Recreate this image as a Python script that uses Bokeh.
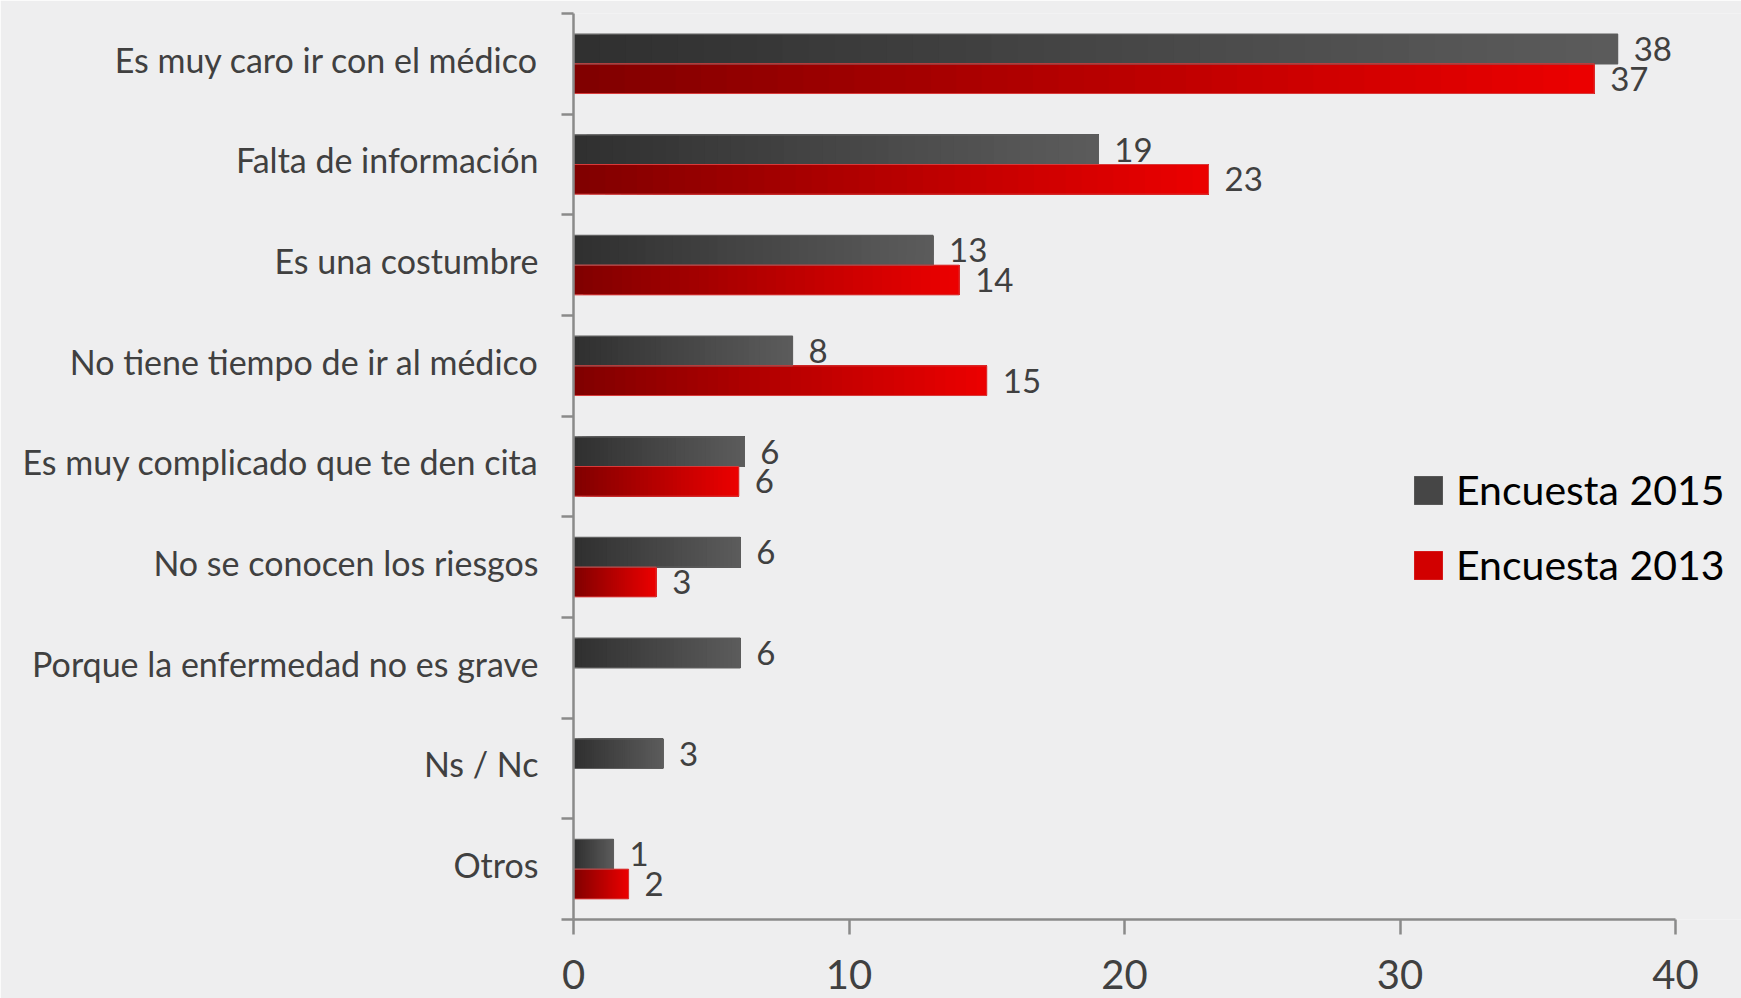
from bokeh.plotting import figure
from bokeh.models import (Range1d, FixedTicker, ColumnDataSource, Legend, LegendItem)
from bokeh.embed import file_html
from bokeh.resources import INLINE
from bokeh.core.properties import value

# ---------------- data ----------------
categories = [
    "Es muy caro ir con el médico",
    "Falta de información",
    "Es una costumbre",
    "No tiene tiempo de ir al médico",
    "Es muy complicado que te den cita",
    "No se conocen los riesgos",
    "Porque la enfermedad no es grave",
    "Ns / Nc",
    "Otros",
]
values_2015 = [37.9, 19.05, 13.05, 7.95, 6.2, 6.05, 6.05, 3.25, 1.45]
values_2013 = [37.05, 23.05, 14.0, 15.0, 6.0, 3.0, None, None, 2.0]
labels_2015 = ["38", "19", "13", "8", "6", "6", "6", "3", "1"]
labels_2013 = ["37", "23", "14", "15", "6", "3", "", "", "2"]
series_names = ["Encuesta 2015", "Encuesta 2013"]
x_ticks = [0, 10, 20, 30, 40]
x_max = 40

# ---------------- style ----------------
FONT = "Lato"
TEXT_COL = "#404040"
AXIS_COL = "#8a8a8a"
BG = "#eeeeef"
BAR_H = 0.295
N_SEG = 40
LABEL_SHIFT = 0.045  # category labels sit slightly above the band centre

W, H = 1741, 998
LEFT, TOP, BOTTOM = 573, 13, 79
AXIS_RIGHT_PX = 1675  # pixel position of x = 40

n_cat = len(categories)
centers = [n_cat - i - 0.5 for i in range(n_cat)]
label_pos = [c + LABEL_SHIFT for c in centers]
boundaries = list(range(n_cat + 1))
x_end = x_max * (W - LEFT) / (AXIS_RIGHT_PX - LEFT)


def hex_to_rgb(h):
    h = h.lstrip("#")
    return tuple(int(h[i:i + 2], 16) for i in (0, 2, 4))


def lerp_col(c0, c1, t):
    a, b = hex_to_rgb(c0), hex_to_rgb(c1)
    return "#%02x%02x%02x" % tuple(int(round(a[j] + (b[j] - a[j]) * t)) for j in range(3))


def gradient_source(vals, upper, c0, c1):
    # each segment runs from its start to the bar end; later segments paint over
    left, right, bottom, top, color = [], [], [], [], []
    for i, v in enumerate(vals):
        if v is None:
            continue
        c = centers[i]
        b, t = (c, c + BAR_H) if upper else (c - BAR_H, c)
        for k in range(N_SEG):
            left.append(v * k / N_SEG)
            right.append(v)
            bottom.append(b)
            top.append(t)
            color.append(lerp_col(c0, c1, (k + 0.5) / N_SEG))
    return ColumnDataSource(dict(left=left, right=right, bottom=bottom, top=top, color=color))


def outline_source(vals, upper):
    left, right, bottom, top = [], [], [], []
    for i, v in enumerate(vals):
        if v is None:
            continue
        c = centers[i]
        b, t = (c, c + BAR_H) if upper else (c - BAR_H, c)
        left.append(0)
        right.append(v)
        bottom.append(b)
        top.append(t)
    return ColumnDataSource(dict(left=left, right=right, bottom=bottom, top=top))


def label_source(vals, labels, upper):
    xs, ys, ts = [], [], []
    for i, (v, l) in enumerate(zip(vals, labels)):
        if v is None or l == "":
            continue
        xs.append(v)
        ys.append(centers[i] + (BAR_H / 2 if upper else -BAR_H / 2))
        ts.append(l)
    return ColumnDataSource(dict(x=xs, y=ys, text=ts))


p = figure(
    width=W, height=H,
    x_range=Range1d(0, x_end), y_range=Range1d(0, n_cat),
    output_backend="svg", toolbar_location=None,
    min_border_left=LEFT, min_border_right=0, min_border_top=TOP, min_border_bottom=BOTTOM,
    background_fill_color=BG, border_fill_color=BG,
)
p.outline_line_color = None
p.xgrid.visible = False
p.ygrid.visible = False

src_dark = gradient_source(values_2015, True, "#2f2f2f", "#5c5c5c")
src_red = gradient_source(values_2013, False, "#800000", "#ec0000")

r_dark = p.quad(left="left", right="right", bottom="bottom", top="top", source=src_dark,
                fill_color="color", line_color=None)
r_red = p.quad(left="left", right="right", bottom="bottom", top="top", source=src_red,
               fill_color="color", line_color=None)

p.quad(left="left", right="right", bottom="bottom", top="top", source=outline_source(values_2015, True),
       fill_color=None, line_color="#5e5e5e", line_width=1.2)
p.quad(left="left", right="right", bottom="bottom", top="top", source=outline_source(values_2013, False),
       fill_color=None, line_color="#d83a3a", line_width=1.0)

for src in (label_source(values_2015, labels_2015, True), label_source(values_2013, labels_2013, False)):
    p.text(x="x", y="y", text="text", source=src, x_offset=16,
           text_align="left", text_baseline="middle",
           text_font=value(FONT), text_font_size="33px", text_color=TEXT_COL)

# y axis: labels near centres, boundary ticks as minor ticks
yax = p.yaxis[0]
yax.ticker = FixedTicker(ticks=label_pos, minor_ticks=boundaries)
yax.major_label_overrides = {c: name for c, name in zip(label_pos, categories)}
yax.major_tick_out = 0
yax.major_tick_in = 0
yax.major_tick_line_color = None
yax.minor_tick_out = 12
yax.minor_tick_in = 0
yax.minor_tick_line_color = AXIS_COL
yax.minor_tick_line_width = 2.5
yax.axis_line_color = AXIS_COL
yax.axis_line_width = 2.5
yax.major_label_standoff = 23
yax.major_label_text_font = FONT
yax.major_label_text_font_size = "34px"
yax.major_label_text_color = TEXT_COL

xax = p.xaxis[0]
xax.ticker = FixedTicker(ticks=x_ticks)
xax.bounds = (0, x_max)
xax.major_tick_out = 15
xax.major_tick_in = 0
xax.major_tick_line_color = AXIS_COL
xax.major_tick_line_width = 2.5
xax.minor_tick_line_color = None
xax.axis_line_color = AXIS_COL
xax.axis_line_width = 2.5
xax.major_label_standoff = 25
xax.major_label_text_font = FONT
xax.major_label_text_font_size = "40px"
xax.major_label_text_color = TEXT_COL

legend = Legend(
    items=[LegendItem(label=series_names[0], renderers=[r_dark], index=N_SEG // 2),
           LegendItem(label=series_names[1], renderers=[r_red], index=N_SEG * 3 // 4)],
    location=(837, 330),
    glyph_width=36, glyph_height=36, label_standoff=10, spacing=26,
    padding=0, margin=0, border_line_color=None, background_fill_alpha=0,
    label_text_font=FONT, label_text_font_size="41px", label_text_color="#000000",
)
p.add_layout(legend, "center")

open("out.html", "w").write(file_html(p, INLINE))
